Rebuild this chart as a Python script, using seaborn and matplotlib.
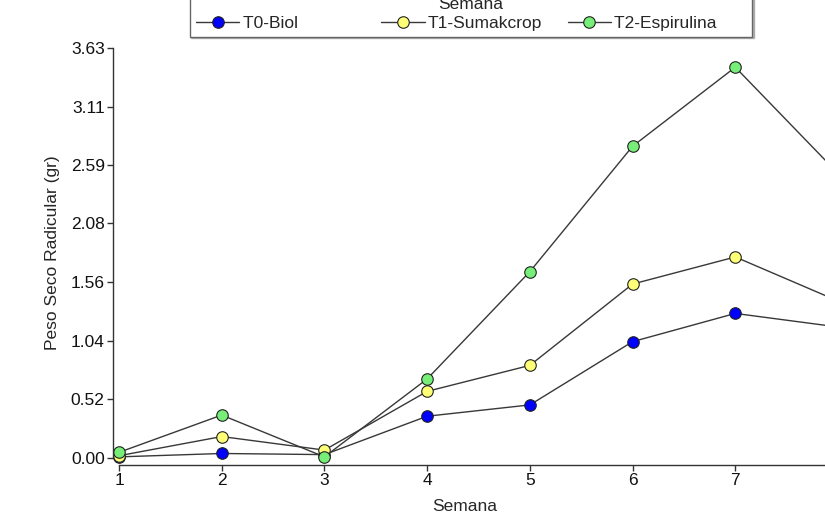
import numpy as np
import pandas as pd
import seaborn as sns
import matplotlib.pyplot as plt

# Peso seco radicular por semana
semanas = [1, 2, 3, 4, 5, 6, 7, 8]
t0_biol = [0.01, 0.04, 0.03, 0.37, 0.47, 1.03, 1.28, 1.16]
t1_sumakcrop = [0.02, 0.19, 0.07, 0.59, 0.82, 1.54, 1.78, 1.39]
t2_espirulina = [0.05, 0.38, 0.01, 0.70, 1.65, 2.76, 3.46, 2.52]

series = ["T0-Biol", "T1-Sumakcrop", "T2-Espirulina"]
fills = ["#0000FF", "#FFFF77", "#77EE77"]
yticks = [0.00, 0.52, 1.04, 1.56, 2.08, 2.59, 3.11, 3.63]

df = pd.DataFrame({"Semana": semanas,
                   "T0-Biol": t0_biol,
                   "T1-Sumakcrop": t1_sumakcrop,
                   "T2-Espirulina": t2_espirulina})

sns.set_style("ticks")
plt.rcParams["font.family"] = ["Liberation Sans", "DejaVu Sans"]
fs = 12.5

fig = plt.figure(figsize=(8.25, 5.19), dpi=100)
# axes run past the right edge of the picture, like the cropped original
ax = fig.add_axes([119 / 825, 61 / 519, 719 / 825, 410 / 519])

for name, fc in zip(series, fills):
    sns.lineplot(data=df, x="Semana", y=name, ax=ax, label=name,
                 color="#383838", lw=1.0, marker="o", markersize=8.3,
                 markerfacecolor=fc, markeredgecolor="#222222",
                 markeredgewidth=0.8, clip_on=False)

ax.set_xlim(1, 8)
ax.set_ylim(0, 3.63)
ax.set_xticks(semanas)
ax.set_yticks(yticks)
ax.set_yticklabels([f"{v:.2f}" for v in yticks])
ax.tick_params(axis="both", labelsize=fs, length=4, width=1, direction="out",
               color="#333333", labelcolor="#111111", pad=2)

sns.despine(ax=ax)
ax.spines["left"].set_position(("outward", 4.3))
ax.spines["bottom"].set_position(("outward", 5))
for s in ["left", "bottom"]:
    ax.spines[s].set_color("#333333")
    ax.spines[s].set_linewidth(1.0)

ax.set_xlabel("Semana", fontsize=fs)
ax.xaxis.set_label_coords((465 - 119) / 719, -0.1)
ax.set_ylabel("Peso Seco Radicular (gr)", fontsize=fs)
ax.yaxis.set_label_coords(-0.082, 0.5)

handles, labels = ax.get_legend_handles_labels()
ax.get_legend().remove()
# pad labels so the legend columns get an even pitch, as in the original
labels[0] = labels[0] + " " * 12
labels[2] = labels[2] + " " * 6
leg = fig.legend(handles, labels, ncol=3, title="Semana",
                 loc="lower center", bbox_to_anchor=(471 / 825, 1 - 37 / 519),
                 borderaxespad=0, fontsize=fs, title_fontsize=fs,
                 frameon=True, fancybox=False, edgecolor="#666666",
                 shadow={"ox": 1, "oy": -1, "color": "#777777"},
                 handlelength=2.5, handletextpad=0.2, columnspacing=1.44,
                 borderpad=0.35, labelspacing=0.2)
leg.get_frame().set_linewidth(1.0)

fig.savefig("out.png", dpi=100)
